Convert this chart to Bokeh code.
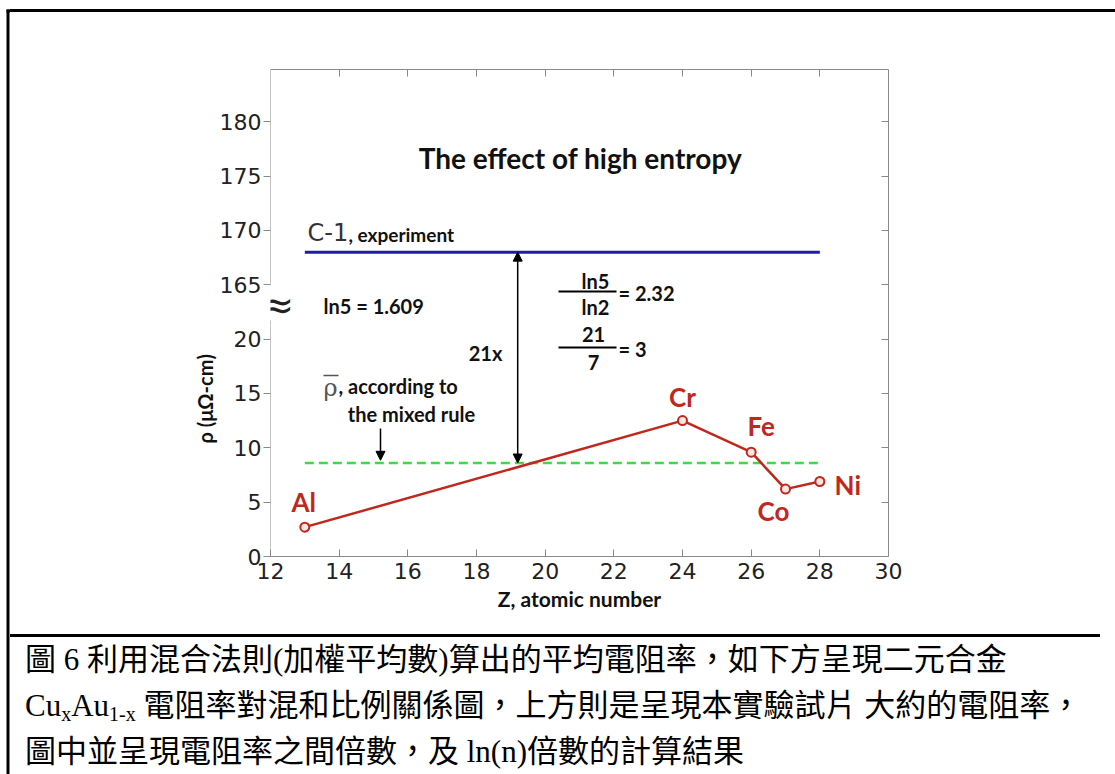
import math
from bokeh.plotting import figure
from bokeh.models import (LinearAxis, FixedTicker, Range1d, Label, Arrow,
                          NormalHead, ColumnDataSource, Title, Div)
from bokeh.layouts import row, column
from bokeh.embed import file_html
from bokeh.resources import INLINE
from bokeh.core.properties import value

# ---------------- data ----------------
elements = ["Al", "Cr", "Fe", "Co", "Ni"]
atomic_number = [13, 24, 26, 27, 28]
resistivity = [2.7, 12.5, 9.6, 6.2, 6.9]          # µΩ-cm
experiment_rho = 168.0                              # C-1, experiment
mixed_rule_rho = 8.6                                # mean by mixed rule
z_span = [13, 28]
arrow_z = 19.2
x_ticks = [12, 14, 16, 18, 20, 22, 24, 26, 28, 30]
y_ticks_low = [0, 5, 10, 15, 20]
y_ticks_high = [165, 170, 175, 180]
BREAK_SHIFT = 140            # values above the axis break are drawn shifted down by this

caption_line1 = "圖 6 利用混合法則(加權平均數)算出的平均電阻率，如下方呈現二元合金"
caption_line2 = "電阻率對混和比例關係圖，上方則是呈現本實驗試片 大約的電阻率，"
caption_line3 = "圖中並呈現電阻率之間倍數，及 ln(n)倍數的計算結果"


def yv(v):
    return v - BREAK_SHIFT if v > 100 else v

# ---------------- page geometry (pixels) ----------------
W, H = 1115, 774
LEFT_W = 10          # left border strip
TOP_H = 13           # top border strip
CHART_BOTTOM = 634   # page y where caption starts
FX0, FX1 = 270, 888
FY0, FY1 = 556, 69
XR = (12, 30)
YR = (0, 44.8)

def px(x):
    return XR[0] + (x - FX0) * (XR[1] - XR[0]) / (FX1 - FX0)

def py(y):
    return YR[0] + (FY0 - y) * (YR[1] - YR[0]) / (FY0 - FY1)

RED = "#c0281e"
BLUE = "#1c1ca6"
GREEN = "#3ddc3d"
AXIS = "#8a8a8a"
BOLD = "Lato"

# ---------------- left border strip ----------------
left_strip = figure(width=LEFT_W, height=H, x_range=Range1d(0, LEFT_W),
                    y_range=Range1d(H, 0), output_backend="svg",
                    toolbar_location=None, min_border=0,
                    x_axis_location=None, y_axis_location=None)
left_strip.grid.visible = False
left_strip.outline_line_color = None
left_strip.quad(left=6, right=9, top=9, bottom=H, fill_color="black", line_color=None)
left_strip.quad(left=6, right=LEFT_W, top=9, bottom=12, fill_color="black", line_color=None)

top_strip = Div(text='<div style="margin:9px 0 0 0;height:3px;width:%dpx;background:#000"></div>'
                % (W - LEFT_W), width=W - LEFT_W, height=TOP_H, margin=0)

# ---------------- chart ----------------
p = figure(width=W - LEFT_W, height=CHART_BOTTOM - TOP_H,
           x_range=Range1d(*XR), y_range=Range1d(*YR),
           output_backend="svg", toolbar_location=None,
           min_border_left=FX0 - LEFT_W, min_border_right=W - FX1,
           min_border_top=FY1 - TOP_H, min_border_bottom=CHART_BOTTOM - FY0,
           x_axis_location=None, y_axis_location=None)
p.grid.visible = False
p.outline_line_color = None
p.background_fill_color = "white"
p.border_fill_color = "white"

tick_font = "DejaVu Sans"

xb = LinearAxis(ticker=FixedTicker(ticks=x_ticks), axis_label="Z, atomic number")
xb.axis_line_color = AXIS
xb.major_tick_line_color = AXIS
xb.major_tick_in = 7
xb.major_tick_out = 0
xb.minor_tick_line_color = None
xb.major_label_text_font = tick_font
xb.major_label_text_font_size = "22px"
xb.major_label_text_color = "#222222"
xb.major_label_standoff = 6
xb.axis_label_text_font = BOLD
xb.axis_label_text_font_style = "bold"
xb.axis_label_text_font_size = "21px"
xb.axis_label_text_color = "#111111"
xb.axis_label_standoff = 4
p.add_layout(xb, "below")

xt = LinearAxis(ticker=FixedTicker(ticks=x_ticks[1:-1]))
xt.axis_line_color = AXIS
xt.major_tick_line_color = AXIS
xt.major_tick_in = 7
xt.major_tick_out = 0
xt.minor_tick_line_color = None
xt.major_label_text_color = None
xt.major_label_text_font_size = "1px"
p.add_layout(xt, "above")

all_y = y_ticks_low + y_ticks_high
yl = LinearAxis(ticker=FixedTicker(ticks=[yv(v) for v in all_y]))
yl.major_label_overrides = {yv(v): str(v) for v in all_y}
yl.axis_line_color = None
yl.major_tick_line_color = AXIS
yl.major_tick_in = 0
yl.major_tick_out = 7
yl.minor_tick_line_color = None
yl.major_label_text_font = tick_font
yl.major_label_text_font_size = "22px"
yl.major_label_text_color = "#222222"
yl.major_label_standoff = 2
p.add_layout(yl, "left")

ylab = Title(text="ρ (μΩ-cm)", align="left", offset=FY0 - 443,
             text_font=BOLD, text_font_style="bold", text_font_size="20px",
             text_color="#111111", standoff=0)
p.add_layout(ylab, "left")

yr = LinearAxis(ticker=FixedTicker(ticks=[yv(v) for v in all_y[1:]]))
yr.axis_line_color = AXIS
yr.major_tick_line_color = AXIS
yr.major_tick_in = 7
yr.major_tick_out = 0
yr.minor_tick_line_color = None
yr.major_label_text_color = None
yr.major_label_text_font_size = "1px"
p.add_layout(yr, "right")

# broken left axis line
for y0, y1 in [(YR[0], py(320)), (yv(165), YR[1])]:
    p.add_layout(Arrow(x_start=XR[0], y_start=y0, x_end=XR[0], y_end=y1,
                       start=None, end=None, line_color=AXIS, line_width=1))
p.add_layout(Label(x=px(277), y=py(304), text="≈", text_font="DejaVu Sans",
                   text_font_size="40px", text_color="#222222",
                   text_align="center", text_baseline="middle"))

# data marks
p.line(z_span, [yv(experiment_rho)] * 2, line_color=BLUE, line_width=3)
p.line(z_span, [yv(mixed_rule_rho)] * 2, line_color=GREEN, line_width=2.5,
       line_dash="9 5")

src = ColumnDataSource(dict(
    z=atomic_number, rho=[yv(v) for v in resistivity], name=elements,
    dx=[-1, 0, 10, -12, 28], dy=[-25, -24, -26, 22, 4]))
p.line("z", "rho", source=src, line_color=RED, line_width=2.5)
p.scatter("z", "rho", source=src, marker="circle", size=9, fill_color="#f6e6e4",
          line_color=RED, line_width=2)
p.text("z", "rho", text="name", source=src, x_offset="dx", y_offset="dy",
       text_font=value(BOLD), text_font_style="bold", text_font_size="26px",
       text_color=RED, text_align="center", text_baseline="middle")

p.add_layout(Arrow(x_start=arrow_z, y_start=yv(mixed_rule_rho),
                   x_end=arrow_z, y_end=yv(experiment_rho),
                   start=NormalHead(size=9, fill_color="black", line_color="black"),
                   end=NormalHead(size=9, fill_color="black", line_color="black"),
                   line_color="black", line_width=1.5))
p.add_layout(Arrow(x_start=px(380), y_start=py(428), x_end=px(380),
                   y_end=yv(mixed_rule_rho) + 0.25,
                   end=NormalHead(size=9, fill_color="black", line_color="black"),
                   line_color="black", line_width=1.5))


def lab(x, y, text, size, font=BOLD, style="bold", color="#111111",
        align="left", baseline="middle", angle=0):
    p.add_layout(Label(x=px(x), y=py(y), text=text, text_font=font,
                       text_font_style=style, text_font_size=size,
                       text_color=color, text_align=align,
                       text_baseline=baseline, angle=angle))

lab(580, 157, "The effect of high entropy", "28px", align="center")
lab(307, 232, "C-1", "24px", font="DejaVu Sans", style="normal", color="#333333")
lab(348, 234, ", experiment", "19px")
lab(323, 305, "ln5 = 1.609", "20px")
lab(485, 352, "21x", "20px", align="center")
lab(330, 387, "ρ", "24px", font="DejaVu Serif", style="normal", color="#555555",
    align="center")
p.add_layout(Arrow(x_start=px(323), y_start=py(375), x_end=px(338), y_end=py(375),
                   start=None, end=None, line_color="#555555", line_width=1.5))
lab(338, 385, ", according to", "20px")
lab(411, 413, "the mixed rule", "20px", align="center")

lab(595, 280, "ln5", "20px", align="center")
lab(595, 306, "ln2", "20px", align="center")
p.add_layout(Arrow(x_start=px(558), y_start=py(291), x_end=px(616), y_end=py(291),
                   start=None, end=None, line_color="black", line_width=2))
lab(618, 292, "= 2.32", "20px")
lab(593, 334, "21", "20px", align="center")
lab(593, 362, "7", "20px", align="center")
p.add_layout(Arrow(x_start=px(558), y_start=py(347), x_end=px(616), y_end=py(347),
                   start=None, end=None, line_color="black", line_width=2))
lab(618, 348, "= 3", "20px")

# ---------------- caption ----------------
sub = '<span style="font-size:20px;line-height:0;vertical-align:-5px">%s</span>'
caption_html = (
    '<div style="border-top:3px solid #000;margin:0;padding:0 0 0 15px;'
    "font-family:'Liberation Serif','Noto Sans CJK TC';font-size:31px;"
    'line-height:46px;white-space:nowrap;color:#000;width:%dpx">' % (W - LEFT_W - 15)
    + caption_line1 + "<br>"
    + "Cu" + sub % "x" + "Au" + sub % "1-x" + " " + caption_line2 + "<br>"
    + caption_line3 + "</div>")
cap = Div(text=caption_html, width=W - LEFT_W, height=H - CHART_BOTTOM, margin=0)

root = row(left_strip, column(top_strip, p, cap, spacing=0), spacing=0)
open("out.html", "w").write(file_html(root, INLINE))
